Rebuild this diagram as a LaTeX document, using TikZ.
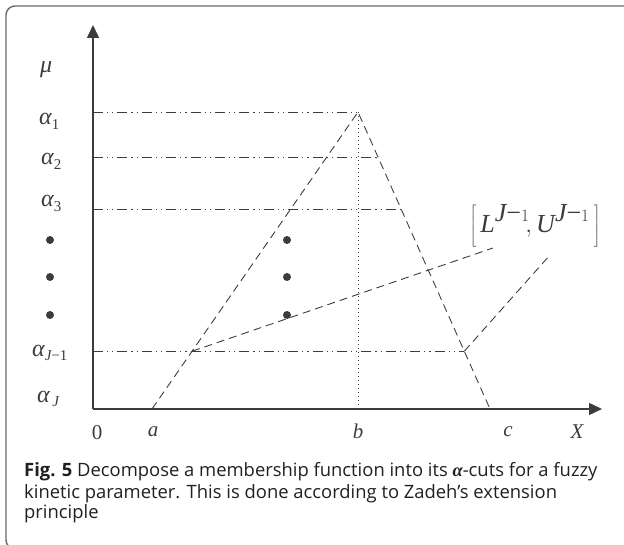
\documentclass[tikz,border=0pt]{standalone}
\usepackage{fontspec}
\setmainfont{Liberation Serif}
\newfontfamily\capfont{Open Sans}
\usetikzlibrary{arrows.meta,calc}
\definecolor{axisgray}{RGB}{60,60,60}
\definecolor{framegray}{RGB}{105,105,105}
\definecolor{captext}{RGB}{35,31,32}
\newcommand{\alab}[2]{{\fontsize{24}{24}\selectfont\itshape #1}\raisebox{-5pt}{\fontsize{15}{15}\selectfont #2}}

\begin{document}
\begin{tikzpicture}[
  x=1pt, y=-1pt,
  axis/.style={line width=1.5pt, draw=axisgray, -{Triangle[length=13pt,width=12pt]}},
  cutline/.style={line width=0.9pt, draw=axisgray,
                  dash pattern=on 10pt off 4pt on 1.2pt off 4pt on 1.2pt off 4pt},
  memb/.style={line width=0.9pt, draw=axisgray, dash pattern=on 8pt off 5pt},
  vline/.style={line width=0.9pt, draw=axisgray, dash pattern=on 1pt off 3pt},
  dotmark/.style={circle, fill=axisgray, inner sep=0pt, minimum size=8pt},
  lbl/.style={font=\fontsize{21}{24}\selectfont, text=axisgray, inner sep=0pt},
  ylbl/.style={lbl, anchor=base west},
  capbox/.style={font=\capfont\fontsize{18.4}{20.5}\selectfont, text=captext,
              align=left, inner sep=0pt, anchor=north west}
]
\useasboundingbox (0,0) rectangle (624,545);
\clip (0,0) rectangle (624,545);

%% frame
\draw[framegray, line width=1.4pt, rounded corners=9pt] (6,6) rectangle (640,549);

%% points
\coordinate (O)    at (93,409);
\coordinate (ytop) at (93,25);
\coordinate (xend) at (602,409);
\coordinate (a)    at (152,409);
\coordinate (c)    at (490,409);
\coordinate (peak) at (358,112);
\coordinate (bfoot) at (358,409);

\coordinate (L2) at ($(a)!0.8485!(peak)$);
\coordinate (L3) at ($(a)!0.6734!(peak)$);
\coordinate (LJ) at ($(a)!0.1945!(peak)$);
\coordinate (R2) at ($(c)!0.8485!(peak)$);
\coordinate (R3) at ($(c)!0.6734!(peak)$);
\coordinate (RJ) at ($(c)!0.1945!(peak)$);

\coordinate (Lend) at (493,248);
\coordinate (Uend) at (550,255);

%% alpha-cuts
\draw[cutline] (O |- peak) -- (peak);
\draw[cutline] (O |- R2) -- (R2);
\draw[cutline] (O |- R3) -- (R3);
\draw[cutline] (O |- RJ) -- (RJ);

%% membership function
\draw[memb] (a) -- (peak) -- (c);
\draw[vline] (peak) -- (bfoot);
\draw[memb] (LJ) -- (Lend);
\draw[memb] (RJ) -- (Uend);

%% axes
\draw[axis] (O) -- (ytop);
\draw[axis] (O) -- (xend);

%% dots
\foreach \y [count=\i] in {240,277,315} {
  \node[dotmark] (ld\i) at (50,\y) {};
  \node[dotmark] (md\i) at (287,\y) {};
}

%% labels
\node[ylbl] (mu)   at (40,73)  {\fontsize{24}{24}\selectfont\itshape μ};
\node[ylbl] (al1)  at (39,125) {\alab{α}{1}};
\node[ylbl] (al2)  at (41,165) {\alab{α}{2}};
\node[ylbl] (al3)  at (41,207) {\alab{α}{3}};
\node[ylbl] (alJm) at (32,356) {\alab{α}{\itshape J\upshape −1}};
\node[ylbl] (alJ)  at (37,402) {\alab{α}{\,\itshape J}};

\node[lbl] (zero) at (97,433)  {0};
\node[lbl] (la)   at (153,432) {\itshape a};
\node[lbl] (lb)   at (358,431) {\itshape b};
\node[lbl] (lc)   at (508,432) {\itshape c};
\node[lbl] (lX)   at (577,432) {\itshape X};

\node[lbl, font=\fontsize{26}{30}\selectfont] (intv) at (535,226)
  {$\left[\,\textit{L}^{\textit{J}\textup{−}1}\!,\textit{U}^{\textit{J}\textup{−}1}\,\right]$};

%% caption
\node[capbox] (caption) at (24,462) {\textbf{Fig. 5} Decompose a membership function into its {\rmfamily\itshape\bfseries α}-cuts for a fuzzy\\[1.5pt]
kinetic parameter. This is done according to Zadeh’s extension\\[0pt]
principle};
\end{tikzpicture}
\end{document}
